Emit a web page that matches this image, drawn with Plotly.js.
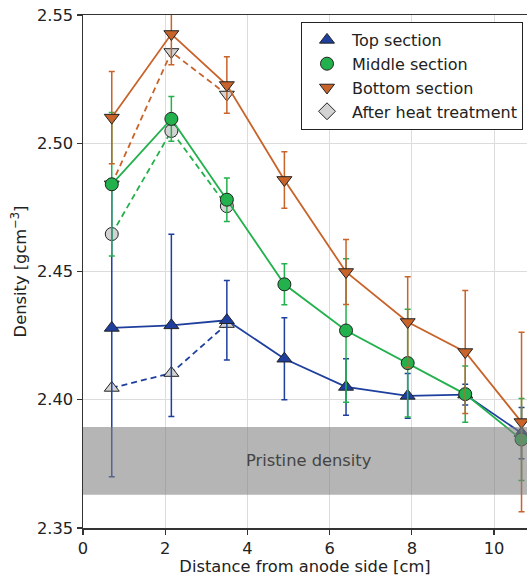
<!DOCTYPE html>
<html>
<head>
<meta charset="utf-8">
<script src="https://cdn.plot.ly/plotly-3.0.1.min.js"></script>
<style>
  html, body { margin: 0; padding: 0; background: #fff; }
  #chart { width: 527px; height: 576px; }
</style>
</head>
<body>
<div id="chart"></div>
<script>
// Sampling positions along the electrode [cm]
const distance = [0.7, 2.15, 3.5, 4.9, 6.4, 7.9, 9.3, 10.67];

// Density per section [g cm^-3] and standard deviations
const topDensity    = [2.428, 2.429, 2.431, 2.416, 2.405, 2.4015, 2.402, 2.387];
const topErr        = [0.058, 0.0355, 0.0155, 0.016, 0.011, 0.0087, 0.004, 0.010];
const middleDensity = [2.484, 2.5095, 2.478, 2.445, 2.427, 2.4143, 2.4022, 2.3845];
const middleErr     = [0.028, 0.0087, 0.0085, 0.008, 0.028, 0.021, 0.011, 0.016];
const bottomDensity = [2.510, 2.5426, 2.5227, 2.4857, 2.4498, 2.4303, 2.4186, 2.3913];
const bottomErr     = [0.018, 0.012, 0.011, 0.011, 0.0127, 0.0177, 0.024, 0.035];

// Re-measured densities after heat treatment (first three positions)
const heatDistance  = [0.7, 2.15, 3.5];
const heatTop       = [2.4046, 2.4104, 2.4295];
const heatMiddle    = [2.4646, 2.5048, 2.4755];
const heatBottom    = [2.484, 2.5356, 2.519];

// Pristine density band
const pristineLow  = 2.363;
const pristineHigh = 2.3894;

const xTicks = [0, 2, 4, 6, 8, 10];
const xTickText = ['0', '2', '4', '6', '8', '10'];
const yTicks = [2.35, 2.40, 2.45, 2.50, 2.55];
const yTickText = ['2.35', '2.40', '2.45', '2.50', '2.55'];

const legendNames = ['Top section', 'Middle section', 'Bottom section', 'After heat treatment'];

const BLUE = '#1f3f9e';
const GREEN = '#22b14c';
const ORANGE = '#c8632a';
const LIGHT = '#d3d3d3';
const EDGE = '#222';
const FONT = 'DejaVu Sans, sans-serif';

function heatTrace(y, color, symbol) {
  return {
    x: heatDistance, y: y, type: 'scatter', mode: 'lines+markers',
    line: { color: color, width: 1.8, dash: '6px,4px' },
    marker: { symbol: symbol, size: 13, color: LIGHT, line: { color: EDGE, width: 1 } },
    showlegend: false, hoverinfo: 'skip'
  };
}

function sectionTrace(y, err, color, symbol) {
  return {
    x: distance, y: y, type: 'scatter', mode: 'lines+markers',
    line: { color: color, width: 1.8 },
    marker: { symbol: symbol, size: 13, color: color, line: { color: EDGE, width: 1 } },
    error_y: { type: 'data', array: err, visible: true, color: color, thickness: 1.5, width: 3 },
    showlegend: false
  };
}

// Marker-only legend entries
function legendEntry(name, color, symbol) {
  return {
    x: [null], y: [null], name: name, type: 'scatter', mode: 'markers',
    marker: { symbol: symbol, size: 13, color: color, line: { color: EDGE, width: 1 } }
  };
}

const traces = [
  heatTrace(heatTop, BLUE, 'triangle-up'),
  heatTrace(heatMiddle, GREEN, 'circle'),
  heatTrace(heatBottom, ORANGE, 'triangle-down'),
  sectionTrace(topDensity, topErr, BLUE, 'triangle-up'),
  sectionTrace(middleDensity, middleErr, GREEN, 'circle'),
  sectionTrace(bottomDensity, bottomErr, ORANGE, 'triangle-down'),
  legendEntry(legendNames[0], BLUE, 'triangle-up'),
  legendEntry(legendNames[1], GREEN, 'circle'),
  legendEntry(legendNames[2], ORANGE, 'triangle-down'),
  legendEntry(legendNames[3], LIGHT, 'diamond')
];

const layout = {
  width: 527, height: 576,
  margin: { l: 83, r: 0, t: 15, b: 48 },
  paper_bgcolor: '#fff', plot_bgcolor: '#fff',
  font: { family: FONT, size: 16.3, color: '#222' },
  xaxis: {
    range: [0, 10.803], tickvals: xTicks, ticktext: xTickText,
    showgrid: true, gridcolor: '#dcdcdc', gridwidth: 1, zeroline: false,
    showline: true, mirror: true, linecolor: '#333', linewidth: 1.5,
    ticks: 'outside', ticklen: 5, tickcolor: '#333', tickwidth: 1.2,
    title: { text: 'Distance from anode side [cm]', font: { size: 16.3 }, standoff: 2 },
    automargin: false
  },
  yaxis: {
    range: [2.35, 2.55], tickvals: yTicks, ticktext: yTickText,
    showgrid: true, gridcolor: '#dcdcdc', gridwidth: 1, zeroline: false,
    showline: true, linecolor: '#333', linewidth: 1.5,
    ticks: 'outside', ticklen: 5, tickcolor: '#333', tickwidth: 1.2,
    title: { text: 'Density [gcm<sup>−3</sup>]', font: { size: 16.3 }, standoff: 6 },
    automargin: false
  },
  shapes: [{
    type: 'rect', xref: 'paper', yref: 'y', x0: 0, x1: 1,
    y0: pristineLow, y1: pristineHigh,
    fillcolor: 'rgba(128,128,128,0.58)', line: { width: 0 }, layer: 'above'
  }],
  annotations: [{
    x: 5.5, y: (pristineLow + pristineHigh) / 2, xref: 'x', yref: 'y',
    text: 'Pristine density', showarrow: false,
    font: { family: FONT, size: 16.3, color: '#444' }
  }],
  legend: {
    x: 0.491, y: 0.9864, xanchor: 'left', yanchor: 'top',
    bgcolor: '#fff', bordercolor: '#222', borderwidth: 1,
    font: { family: FONT, size: 16, color: '#222' },
    itemwidth: 40, tracegroupgap: 0
  },
  showlegend: true
};

Plotly.newPlot('chart', traces, layout, { displayModeBar: false, staticPlot: true });
</script>
</body>
</html>
